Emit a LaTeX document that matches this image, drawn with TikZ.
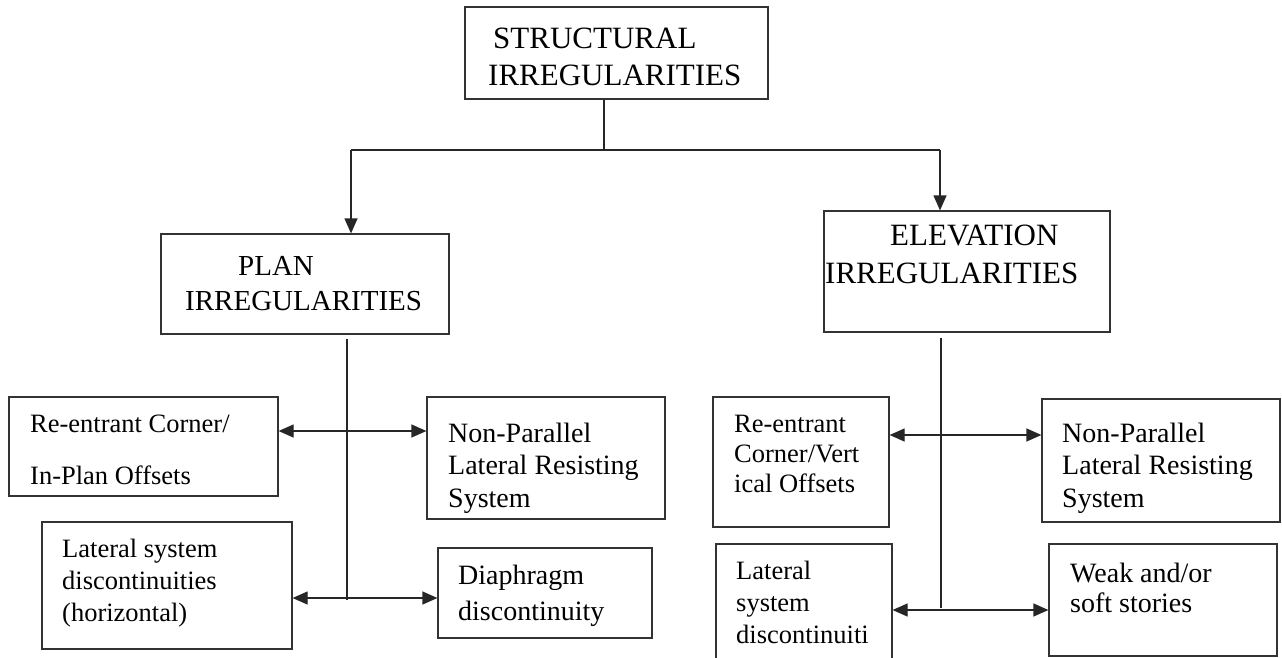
\documentclass[tikz,border=0pt]{standalone}
\usepackage{fontspec}
\setmainfont{Liberation Serif}
\usetikzlibrary{arrows.meta}
\newcommand{\capline}{\rule{0pt}{.75em}}

\begin{document}
\begin{tikzpicture}[x=1pt, y=-1pt,
  box/.style={draw=black!80, line width=1.2pt, inner sep=0pt},
  txt/.style 2 args={anchor=north west, inner sep=0pt, align=left, font=\fontsize{#1}{#2}\selectfont},
  link/.style={draw=black!85, line width=1.2pt},
  arr/.style={link, -{Triangle[length=15pt,width=13pt]}},
  biarr/.style={link, {Triangle[length=15pt,width=13pt]}-{Triangle[length=15pt,width=13pt]}}
]
\useasboundingbox (0,0) rectangle (1282,658);

%% Top level
\node[box, minimum width=303, minimum height=92] (top) at (616.5,53) {};
\node[txt={31}{37}] (top-t) at (488,24.75) {\capline\hspace*{5pt}STRUCTURAL\\IRREGULARITIES};

%% Second level
\node[box, minimum width=288, minimum height=100] (plan) at (305,284) {};
\node[txt={29}{35}] (plan-t) at (185,253.25) {\capline\hspace*{53pt}PLAN\\IRREGULARITIES};
\node[box, minimum width=286, minimum height=121] (elev) at (967,271.5) {};
\node[txt={31}{38}] (elev-t) at (825,221.75) {\capline\hspace*{65pt}ELEVATION\\IRREGULARITIES};

%% Plan irregularities
\node[box, minimum width=269, minimum height=99] (lre) at (143.5,446.5) {};
\node[txt={26.5}{52}] (lre-t) at (30,412) {\capline Re-entrant Corner/\\In-Plan Offsets};
\node[box, minimum width=250, minimum height=127] (llat) at (167,585.5) {};
\node[txt={26.5}{32}] (llat-t) at (62,537) {\capline Lateral system\\discontinuities\\(horizontal)};
\node[box, minimum width=238, minimum height=122] (lnp) at (546,458) {};
\node[txt={28}{32.5}] (lnp-t) at (448,421) {\capline Non-Parallel\\Lateral Resisting\\System};
\node[box, minimum width=214, minimum height=90] (ldia) at (545,593) {};
\node[txt={28}{36}] (ldia-t) at (458,563) {\capline Diaphragm\\discontinuity};

%% Elevation irregularities
\node[box, minimum width=176, minimum height=130] (rre) at (801,462) {};
\node[txt={26.5}{30}] (rre-t) at (734,412) {\capline Re-entrant\\Corner/Vert\\ical Offsets};
\node[box, minimum width=176, minimum height=116] (rlat) at (804,602) {};
\node[txt={26.5}{32}] (rlat-t) at (736,559) {\capline Lateral\\system\\discontinuiti};
\node[box, minimum width=238, minimum height=123] (rnp) at (1161,460.5) {};
\node[txt={28}{32.5}] (rnp-t) at (1062,421) {\capline Non-Parallel\\Lateral Resisting\\System};
\node[box, minimum width=228, minimum height=112] (rweak) at (1163,600) {};
\node[txt={28}{30}] (rweak-t) at (1070,561) {\capline Weak and/or\\soft stories};

%% Junctions
\coordinate (tj) at (604,150);
\coordinate (jl) at (351,150);
\coordinate (jr) at (940,150);
\coordinate (ps) at (347,600);
\coordinate (es) at (941,608);
\coordinate (a1) at (347,431);
\coordinate (a2) at (347,598);
\coordinate (b1) at (941,435);
\coordinate (b2) at (941,610);

%% Connectors
\draw[link] (tj |- top.south) -- (tj);
\draw[link] (jl) -- (jr);
\draw[arr] (jl) -- (jl |- plan.north);
\draw[arr] (jr) -- (jr |- elev.north);
\draw[link] ([yshift=-4pt]ps |- plan.south) -- (ps);
\draw[link] ([yshift=-5pt]es |- elev.south) -- (es);
\draw[biarr] (a1 -| lre.east) -- (a1 -| lnp.west);
\draw[biarr] (a2 -| llat.east) -- (a2 -| ldia.west);
\draw[biarr] (b1 -| rre.east) -- (b1 -| rnp.west);
\draw[biarr] (b2 -| rlat.east) -- (b2 -| rweak.west);
\end{tikzpicture}
\end{document}
